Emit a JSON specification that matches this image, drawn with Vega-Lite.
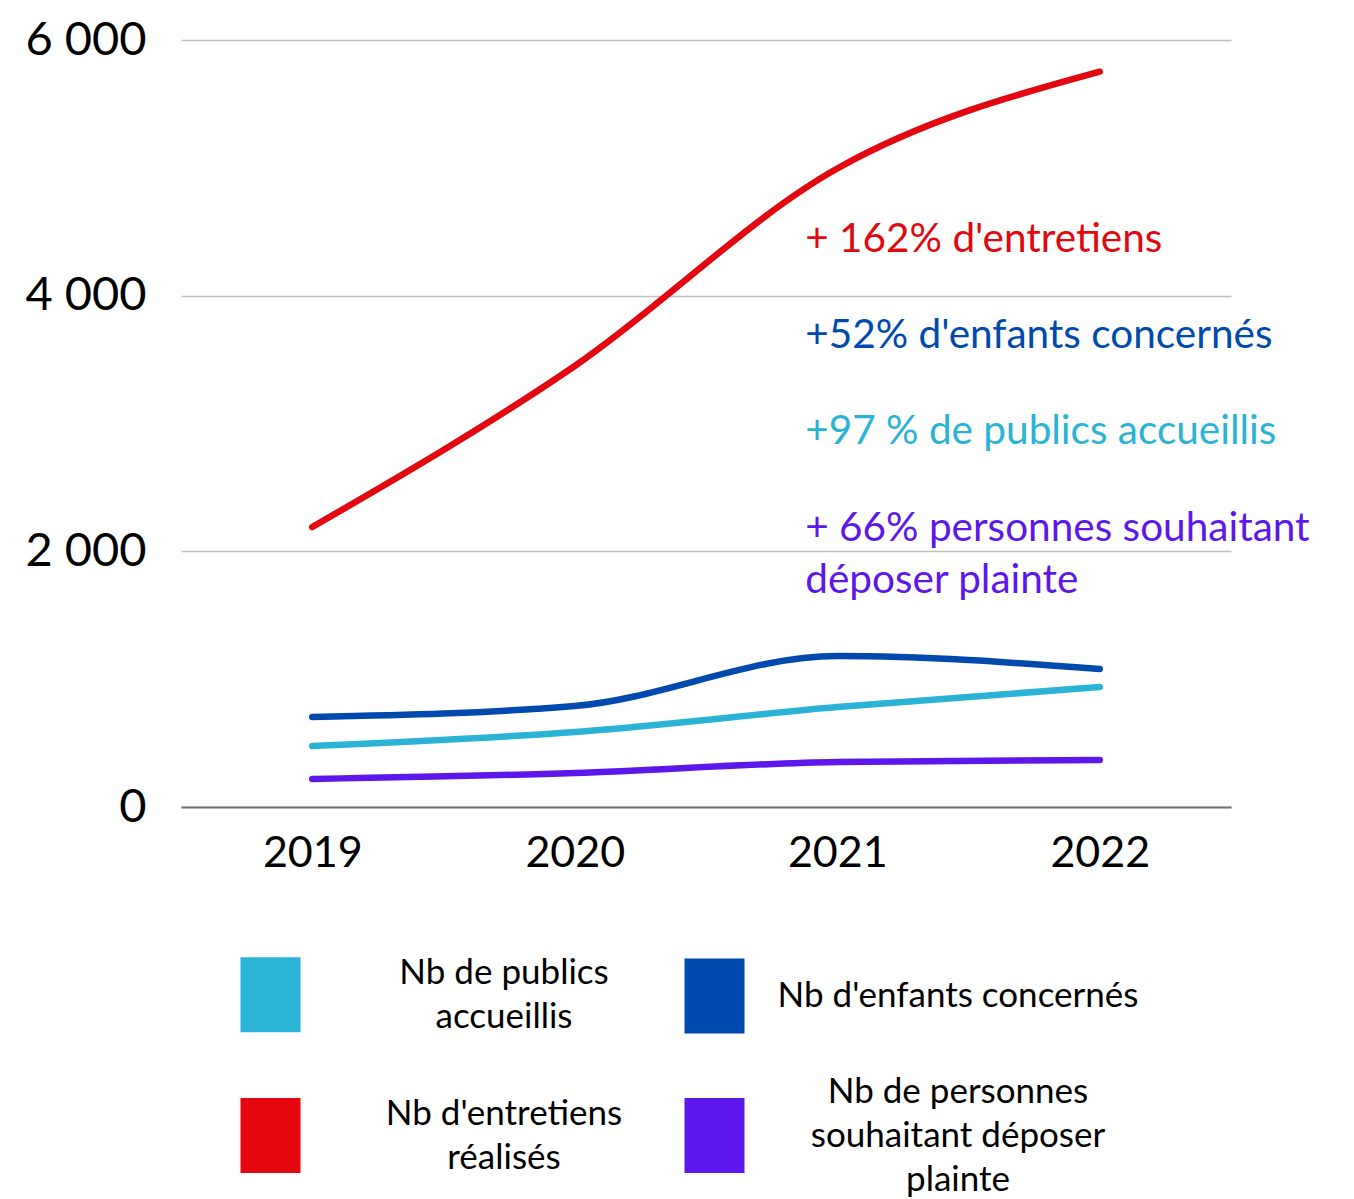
{
  "$schema": "https://vega.github.io/schema/vega-lite/v6.json",
  "autosize": "none",
  "width": 1050,
  "height": 767,
  "padding": {"left": 181, "top": 40, "right": 123, "bottom": 392},
  "background": "white",
  "config": {"view": {"stroke": null}, "font": "Lato"},
  "datasets": {
    "series": [
      {"year": "2019", "serie": "Nb de publics accueillis", "value": 477},
      {"year": "2020", "serie": "Nb de publics accueillis", "value": 587},
      {"year": "2021", "serie": "Nb de publics accueillis", "value": 782},
      {"year": "2022", "serie": "Nb de publics accueillis", "value": 939},
      {"year": "2019", "serie": "Nb d'enfants concernés", "value": 704},
      {"year": "2020", "serie": "Nb d'enfants concernés", "value": 790},
      {"year": "2021", "serie": "Nb d'enfants concernés", "value": 1181},
      {"year": "2022", "serie": "Nb d'enfants concernés", "value": 1080},
      {"year": "2019", "serie": "Nb d'entretiens réalisés", "value": 2190},
      {"year": "2020", "serie": "Nb d'entretiens réalisés", "value": 3450},
      {"year": "2021", "serie": "Nb d'entretiens réalisés", "value": 4995},
      {"year": "2022", "serie": "Nb d'entretiens réalisés", "value": 5752},
      {"year": "2019", "serie": "Nb de personnes souhaitant déposer plainte", "value": 219},
      {"year": "2020", "serie": "Nb de personnes souhaitant déposer plainte", "value": 266},
      {"year": "2021", "serie": "Nb de personnes souhaitant déposer plainte", "value": 352},
      {"year": "2022", "serie": "Nb de personnes souhaitant déposer plainte", "value": 368}
    ],
    "notes": [
      {"year": "2021", "value": 4342, "label": "+ 162% d'entretiens", "serie": "Nb d'entretiens réalisés"},
      {"year": "2021", "value": 3591, "label": "+52% d'enfants concernés", "serie": "Nb d'enfants concernés"},
      {"year": "2021", "value": 2840, "label": "+97 % de publics accueillis", "serie": "Nb de publics accueillis"},
      {"year": "2021", "value": 2081, "label": "+ 66% personnes souhaitant", "serie": "Nb de personnes souhaitant déposer plainte"},
      {"year": "2021", "value": 1674, "label": "déposer plainte", "serie": "Nb de personnes souhaitant déposer plainte"}
    ]
  },
  "layer": [
    {
      "data": {"name": "series"},
      "mark": {"type": "line", "interpolate": "monotone", "strokeWidth": 6.5, "strokeCap": "round", "strokeJoin": "round"},
      "encoding": {
        "x": {
          "field": "year", "type": "ordinal",
          "scale": {"type": "point", "padding": 0.5},
          "axis": {
            "title": null, "labelAngle": 0, "labelFontSize": 43, "labelColor": "#000000",
            "labelPadding": 25, "ticks": false, "domainColor": "#6e6e6e", "domainWidth": 2,
            "grid": false, "labelFont": "Lato"
          }
        },
        "y": {
          "field": "value", "type": "quantitative",
          "scale": {"domain": [0, 6000], "nice": false},
          "axis": {
            "title": null, "values": [0, 2000, 4000, 6000],
            "labelExpr": "replace(format(datum.value, ','), ',', ' ')",
            "labelFontSize": 47, "labelColor": "#000000", "labelPadding": 35,
            "ticks": false, "domain": false, "gridColor": "#c0c0c0", "gridWidth": 1.5,
            "labelFont": "Lato"
          }
        },
        "color": {
          "field": "serie", "type": "nominal",
          "scale": {
            "domain": ["Nb de publics accueillis", "Nb d'enfants concernés", "Nb d'entretiens réalisés", "Nb de personnes souhaitant déposer plainte"],
            "range": ["#2BB3D6", "#004AAD", "#E3070F", "#5E17EB"]
          },
          "legend": {
            "orient": "none", "legendX": 52, "legendY": 917, "direction": "horizontal",
            "title": null, "columns": 2, "columnPadding": 54, "rowPadding": 39,
            "symbolType": "M-0.8,-1H0.8V1H-0.8Z", "symbolSize": 5625, "symbolStrokeWidth": 0,
            "symbolOpacity": 1,
            "labelFontSize": 35, "labelFont": "Lato", "labelColor": "#000000", "labelAlign": "center",
            "labelOffset": 199, "labelLimit": 600,
            "labelExpr": "datum.label == 'Nb de publics accueillis' ? ['Nb de publics', 'accueillis'] : datum.label == \"Nb d'entretiens réalisés\" ? [\"Nb d'entretiens\", 'réalisés'] : datum.label == 'Nb de personnes souhaitant déposer plainte' ? ['Nb de personnes', 'souhaitant déposer', 'plainte'] : datum.label",
            "encode": {"labels": {"update": {
              "lineHeight": {"value": 44},
              "dy": {"signal": "datum.label == 'Nb de personnes souhaitant déposer plainte' ? -44 : datum.label == \"Nb d'enfants concernés\" ? 0 : -22"},
              "dx": {"signal": "datum.label == 'Nb de personnes souhaitant déposer plainte' || datum.label == \"Nb d'enfants concernés\" ? 7 : -3"}
            }}}
          }
        }
      }
    },
    {
      "data": {"name": "notes"},
      "mark": {"type": "text", "align": "left", "baseline": "alphabetic", "fontSize": 40.5, "dx": -32, "font": "Lato"},
      "encoding": {
        "x": {"field": "year", "type": "ordinal"},
        "y": {"field": "value", "type": "quantitative"},
        "text": {"field": "label"},
        "color": {"field": "serie", "type": "nominal", "legend": null}
      }
    }
  ]
}
